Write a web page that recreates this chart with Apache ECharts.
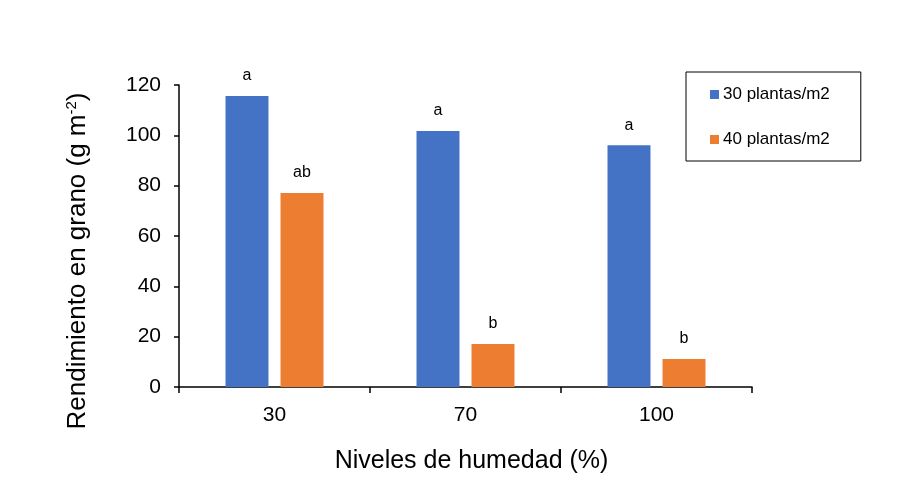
<!DOCTYPE html>
<html>
<head>
<meta charset="utf-8">
<script src="https://cdn.jsdelivr.net/npm/echarts@6/dist/echarts.min.js"></script>
<style>
html, body { margin: 0; padding: 0; background: #fff; }
#demo { width: 897px; height: 501px; }
</style>
</head>
<body>
<div id="demo"></div>
<script>
// datos
var categorias = ['30', '70', '100'];
var serie30 = [115.6, 101.7, 96.1];
var serie40 = [77.1, 17.1, 11.1];
var letras30 = ['a', 'a', 'a'];
var letras40 = ['ab', 'b', 'b'];
var nombres = ['30 plantas/m2', '40 plantas/m2'];

var myChart = echarts.init(document.getElementById('demo'));
var fuente = '"Liberation Sans", Arial, sans-serif';

function etiqueta(letras) {
    return {
        show: true,
        position: 'top',
        distance: 12,
        color: '#000',
        fontSize: 16,
        fontFamily: fuente,
        formatter: function (p) { return letras[p.dataIndex]; }
    };
}

option = {
    animation: false,
    color: ['#4472C4', '#ED7D31'],
    textStyle: { fontFamily: fuente },
    grid: {
        left: 179,
        right: 145,
        top: 85,
        bottom: 114
    },
    legend: {
        data: nombres,
        orient: 'vertical',
        left: 686,
        top: 72,
        icon: 'rect',
        itemWidth: 9,
        itemHeight: 9,
        itemGap: 28,
        padding: [14, 31, 13, 24],
        borderColor: '#000',
        borderWidth: 1,
        textStyle: { fontSize: 17, color: '#000', fontFamily: fuente, padding: [0, 0, 0, -1] }
    },
    xAxis: {
        type: 'category',
        data: categorias,
        name: 'Niveles de humedad (%)',
        nameLocation: 'middle',
        nameGap: 62,
        nameTextStyle: { fontSize: 25, color: '#000', fontFamily: fuente, padding: [0, 0, 0, 12] },
        axisLine: { lineStyle: { color: '#000', width: 1.5 } },
        axisTick: { show: true, length: 6, lineStyle: { color: '#000', width: 1.5 } },
        axisLabel: { fontSize: 21, color: '#000', margin: 18, fontFamily: fuente }
    },
    yAxis: {
        type: 'value',
        min: 0,
        max: 120,
        interval: 20,
        name: '{n|Rendimiento en grano (g m}{s|-2}{n|)}',
        nameLocation: 'middle',
        nameGap: 88,
        nameRotate: 90,
        nameTextStyle: {
            padding: [0, 50, 0, 0],
            rich: {
                n: { fontSize: 26, color: '#000', fontFamily: fuente },
                s: { fontSize: 15, color: '#000', fontFamily: fuente, verticalAlign: 'top', padding: [0, 0, 12, 0] }
            }
        },
        splitLine: { show: false },
        axisLine: { show: true, lineStyle: { color: '#000', width: 1.5 } },
        axisTick: { show: true, length: 5, lineStyle: { color: '#000', width: 1.5 } },
        axisLabel: { fontSize: 21, color: '#000', margin: 18, fontFamily: fuente }
    },
    series: [
        {
            name: nombres[0],
            type: 'bar',
            barWidth: '22.5%',
            barGap: '28%',
            label: etiqueta(letras30),
            data: serie30
        },
        {
            name: nombres[1],
            type: 'bar',
            barWidth: '22.5%',
            label: etiqueta(letras40),
            data: serie40
        }
    ]
};

myChart.setOption(option);
</script>
</body>
</html>
